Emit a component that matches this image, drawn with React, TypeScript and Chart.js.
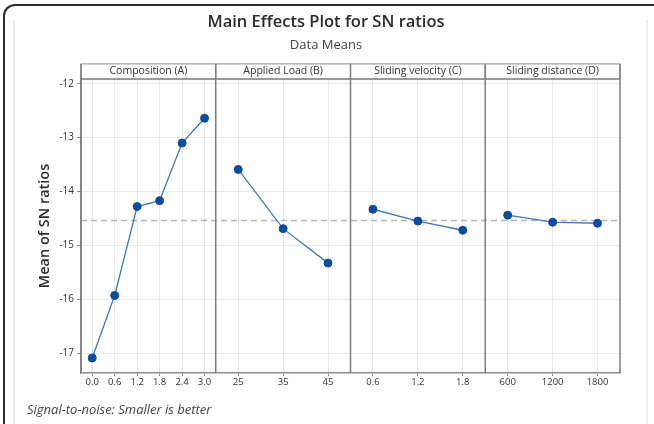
import { useEffect, useRef } from 'react';
import { Chart, registerables } from 'chart.js';

Chart.register(...registerables);

const chartTitle = 'Main Effects Plot for SN ratios';
const chartSubtitle = 'Data Means';
const yAxisTitle = 'Mean of SN ratios';
const footnote = 'Signal-to-noise: Smaller is better';

const panelTitles = ['Composition (A)', 'Applied Load (B)', 'Sliding velocity (C)', 'Sliding distance (D)'];
const levelsA = ['0.0', '0.6', '1.2', '1.8', '2.4', '3.0'];
const levelsB = ['25', '35', '45'];
const levelsC = ['0.6', '1.2', '1.8'];
const levelsD = ['600', '1200', '1800'];

const snA = [-17.09, -15.93, -14.28, -14.17, -13.1, -12.64];
const snB = [-13.59, -14.69, -15.33];
const snC = [-14.33, -14.55, -14.72];
const snD = [-14.44, -14.57, -14.59];

const overallMean = -14.54;
const yMin = -17.37;
const yMax = -11.91;

const FONT = '"Open Sans", "Noto Sans", sans-serif';
const LINE = '#3f78bd';
const POINT = '#0b4c9e';
const scaleIds = ['xA', 'xB', 'xC', 'xD'];

const panelPlugin = {
  id: 'panelDecor',
  beforeDatasetsDraw(chart: any) {
    const { ctx, chartArea, scales } = chart;
    const y = scales.y.getPixelForValue(overallMean);
    ctx.save();
    ctx.setLineDash([6, 4]);
    ctx.strokeStyle = '#b5b5b5';
    ctx.lineWidth = 1.5;
    ctx.beginPath();
    ctx.moveTo(chartArea.left, y);
    ctx.lineTo(chartArea.right, y);
    ctx.stroke();
    ctx.restore();
  },
  afterDraw(chart: any) {
    const { ctx, chartArea, scales } = chart;
    const headerTop = chartArea.top - 15;
    ctx.save();
    scaleIds.forEach((id, i) => {
      const s = scales[id];
      ctx.fillStyle = '#ffffff';
      ctx.fillRect(s.left, headerTop, s.right - s.left, chartArea.top - headerTop);
      ctx.strokeStyle = '#8c8c8c';
      ctx.lineWidth = 1;
      ctx.strokeRect(s.left, headerTop, s.right - s.left, chartArea.top - headerTop);
      ctx.strokeStyle = '#9a9a9a';
      ctx.lineWidth = 2;
      ctx.beginPath();
      ctx.moveTo(s.left, chartArea.top);
      ctx.lineTo(s.right, chartArea.top);
      ctx.stroke();
      ctx.fillStyle = '#333333';
      ctx.font = `10.5px ${FONT}`;
      ctx.textAlign = 'center';
      ctx.textBaseline = 'middle';
      ctx.fillText(panelTitles[i], (s.left + s.right) / 2, headerTop + 7.5);
    });
    const edges = [scales.xA.left, ...scaleIds.map((id) => scales[id].right)];
    ctx.strokeStyle = '#7d7d7d';
    ctx.lineWidth = 1.5;
    edges.forEach((x) => {
      ctx.beginPath();
      ctx.moveTo(x, headerTop);
      ctx.lineTo(x, chartArea.bottom);
      ctx.stroke();
    });
    ctx.fillStyle = '#444444';
    ctx.font = `italic 13px ${FONT}`;
    ctx.textAlign = 'left';
    ctx.textBaseline = 'middle';
    ctx.fillText(footnote, 27, 410);
    ctx.restore();
  },
};

function xScale(labels: string[]) {
  return {
    type: 'category',
    labels,
    position: 'bottom',
    stack: 'panels',
    stackWeight: 1,
    offset: true,
    afterFit: (s: any) => {
      s.height = 20;
    },
    grid: { offset: false, color: '#e9e9e9', tickLength: 3, tickColor: '#8c8c8c', lineWidth: 1 },
    border: { color: '#8c8c8c', width: 1.5 },
    ticks: { color: '#333333', font: { family: FONT, size: 9.5 }, padding: 1, maxRotation: 0, autoSkip: false },
  };
}

function makeDataset(data: number[], axis: string) {
  return {
    data,
    xAxisID: axis,
    yAxisID: 'y',
    borderColor: LINE,
    borderWidth: 1.3,
    pointRadius: 4,
    pointBackgroundColor: POINT,
    pointBorderColor: POINT,
    pointBorderWidth: 1,
    tension: 0,
    fill: false,
  };
}

export default function App() {
  const ref = useRef<HTMLCanvasElement>(null);

  useEffect(() => {
    if (!ref.current) return;
    const chart = new Chart(ref.current, {
      type: 'line',
      data: {
        datasets: [
          makeDataset(snA, 'xA'),
          makeDataset(snB, 'xB'),
          makeDataset(snC, 'xC'),
          makeDataset(snD, 'xD'),
        ] as any,
      },
      options: {
        responsive: false,
        animation: false,
        layout: { padding: { left: 32, right: 34, top: 0, bottom: 31 } },
        plugins: {
          legend: { display: false },
          tooltip: { enabled: false },
          title: {
            display: true,
            text: chartTitle,
            color: '#2b2b2b',
            font: { family: FONT, size: 16.5, weight: '600' },
            padding: { top: 12, bottom: 0 },
          },
          subtitle: {
            display: true,
            text: chartSubtitle,
            color: '#444444',
            font: { family: FONT, size: 13 },
            padding: { top: 5.5, bottom: 26 },
          },
        },
        scales: {
          xA: xScale(levelsA),
          xB: xScale(levelsB),
          xC: xScale(levelsC),
          xD: xScale(levelsD),
          y: {
            type: 'linear',
            position: 'left',
            min: yMin,
            max: yMax,
            afterFit: (s: any) => {
              s.width = 49;
            },
            afterBuildTicks: (s: any) => {
              s.ticks = s.ticks.filter((t: any) => Number.isInteger(t.value));
            },
            title: {
              display: true,
              text: yAxisTitle,
              color: '#2b2b2b',
              font: { family: FONT, size: 14.5, weight: '600' },
              padding: { top: 4, bottom: 4 },
            },
            grid: { color: '#e9e9e9', tickLength: 4, tickColor: '#8c8c8c' },
            border: { color: '#8c8c8c', width: 1.5 },
            ticks: {
              stepSize: 1,
              includeBounds: false,
              color: '#333333',
              font: { family: FONT, size: 10 },
              padding: 3,
            },
          },
        } as any,
      },
      plugins: [panelPlugin],
    } as any);
    return () => chart.destroy();
  }, []);

  return (
    <div style={{ position: 'fixed', left: 0, top: 0, width: 654, height: 424, background: '#ffffff', overflow: 'hidden' }}>
      <canvas ref={ref} width={654} height={424} style={{ position: 'absolute', left: 0, top: 0 }} />
      <div
        style={{
          position: 'absolute',
          left: 3,
          top: 4,
          width: 700,
          height: 500,
          borderTop: '2px solid #2d2d2d',
          borderLeft: '2px solid #2d2d2d',
          borderTopLeftRadius: 12,
          pointerEvents: 'none',
        }}
      />
      <div style={{ position: 'absolute', left: 13, top: 20, width: 2, height: 404, background: '#ececec' }} />
      <div style={{ position: 'absolute', left: 646, top: 20, width: 2, height: 404, background: '#ececec' }} />
    </div>
  );
}
